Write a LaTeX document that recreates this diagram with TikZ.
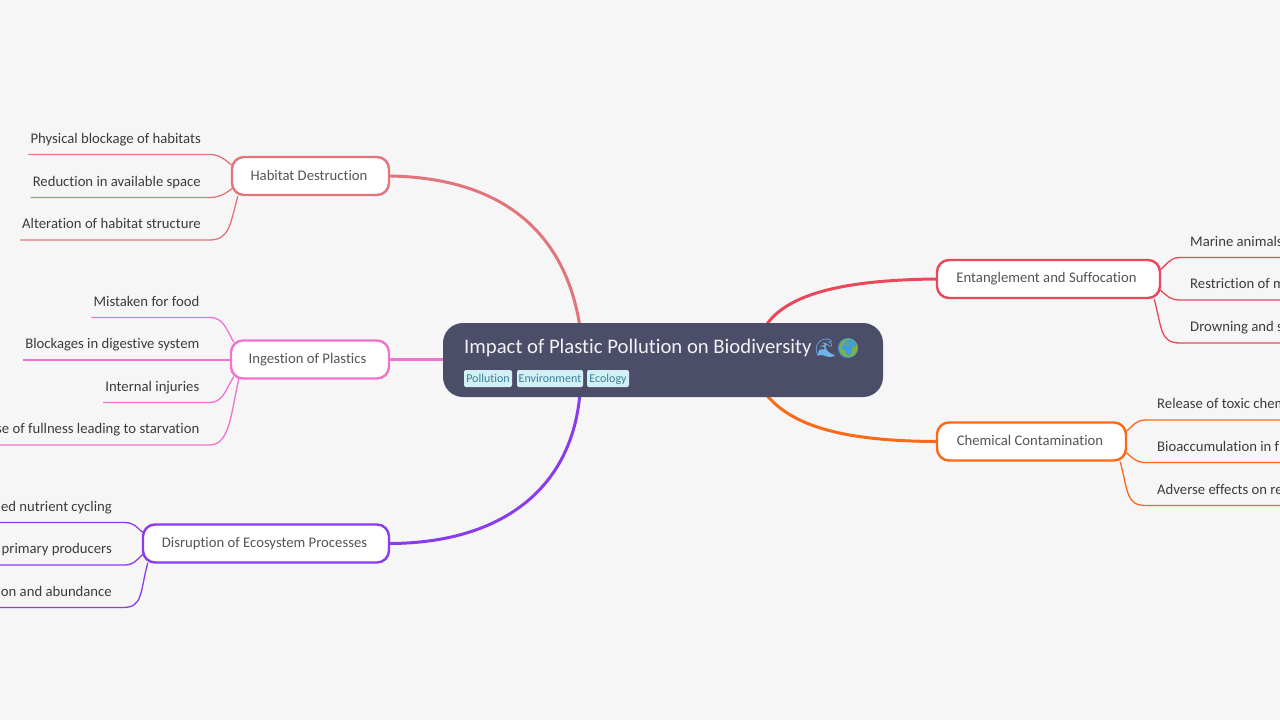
\documentclass[tikz,border=0pt]{standalone}
\usepackage{fontspec}
\setmainfont{Carlito}[RawFeature={-liga;-clig}]
\newfontfamily\emo{Noto Emoji}
\usetikzlibrary{calc}
\pgfdeclarelayer{bgl}\pgfdeclarelayer{conn}\pgfsetlayers{bgl,conn,main}
\definecolor{bgc}{HTML}{F6F6F6}
\definecolor{cen}{HTML}{4C4E69}
\definecolor{hab}{HTML}{E0767B}
\definecolor{ing}{HTML}{EE74CF}
\definecolor{dis}{HTML}{8B3BEE}
\definecolor{ent}{HTML}{E9475C}
\definecolor{che}{HTML}{FA6A18}
\definecolor{tagf}{HTML}{D3F0F7}
\definecolor{tagt}{HTML}{3B8296}
\definecolor{txt}{HTML}{555555}
\definecolor{ltxt}{HTML}{3C3C3C}
\definecolor{wavec}{HTML}{6DB5E8}
\definecolor{seac}{HTML}{3E9BE0}
\definecolor{landc}{HTML}{7CB342}
\newcommand{\brt}[2][0pt]{#2\hspace{#1}\null}
\tikzset{
 branch/.style={draw=#1,line width=2.4pt,fill=white,rounded corners=12pt,text=txt,font=\fontsize{14.7}{18}\selectfont,minimum height=38pt,inner sep=0pt},
 mainlink/.style={draw=#1,line width=3pt},
 leaflink/.style={draw=#1,line width=1.3pt},
 leafl/.style={anchor=south east,text=ltxt,font=\fontsize{14.7}{18}\selectfont,text height=10pt,text depth=8pt,inner ysep=3pt,inner xsep=0pt},
 leafr/.style={anchor=south west,text=ltxt,font=\fontsize{14.7}{18}\selectfont,text height=10pt,text depth=8pt,inner ysep=3pt,inner xsep=0pt},
 tagbox/.style={fill=tagf,text=tagt,rounded corners=2pt,font=\fontsize{12}{14}\selectfont,minimum height=17pt,inner sep=0pt,text height=9.5pt,text depth=1.5pt},
}
\begin{document}
\begin{tikzpicture}[x=1pt,y=-1pt]
\begin{pgfonlayer}{bgl}
\fill[bgc] (0,0) rectangle (1280,720);
\end{pgfonlayer}
\useasboundingbox (0,0) rectangle (1280,720);
% central
\node[fill=cen,rounded corners=20pt,minimum width=440pt,minimum height=74pt,inner sep=0pt] (central) at (663,360) {};
\node[anchor=base west,text=white!92!cen,inner sep=0pt,font=\fontsize{20.7}{26}\selectfont] (title) at (464,353) {Impact of Plastic Pollution on Biodiversity};
\fill[seac] (848,348) circle (10pt);
\node[anchor=base west,text=wavec,inner sep=0pt,font=\emo\fontsize{18}{20}\selectfont] (wave) at (814,354) {🌊};
\node[anchor=base west,text=landc,inner sep=0pt,font=\emo\fontsize{18}{20}\selectfont] (globe) at (837,354) {🌍};
\node[tagbox,minimum width=48pt] (t1) at (488,378.5) {Pollution};
\node[tagbox,minimum width=66pt] (t2) at (550,378.5) {Environment};
\node[tagbox,minimum width=42pt] (t3) at (608,378.5) {Ecology};
\coordinate (ctop) at (580,327);
\coordinate (cbot) at (580,393);
\coordinate (ctr) at (765,327);
\coordinate (cbr) at (765,393);
% branches
\node[branch=hab,minimum width=157pt] (habn) at (310.5,176) {\raisebox{1.5pt}{\brt[3pt]{Habitat Destruction}}};
\node[branch=ing,minimum width=158pt] (ingn) at (310,359.5) {\brt[5pt]{Ingestion of Plastics}};
\node[branch=dis,minimum width=246pt] (disn) at (266,543.5) {\brt[3pt]{Disruption of Ecosystem Processes}};
\node[branch=ent,minimum width=223pt] (entn) at (1048.5,279) {\brt[4pt]{Entanglement and Suffocation}};
\node[branch=che,minimum width=189pt] (chen) at (1031.5,441.5) {\raisebox{1.5pt}{\brt[3pt]{Chemical Contamination}}};
% leaves left
\node[leafl] (h1) at (201,154.5) {Physical blockage of habitats};
\node[leafl] (h2) at (201,197.5) {Reduction in available space};
\node[leafl] (h3) at (201,240) {Alteration of habitat structure};
\node[leafl] (i1) at (199.5,317.5) {Mistaken for food};
\node[leafl] (i2) at (199.5,360) {Blockages in digestive system};
\node[leafl] (i3) at (199.5,402.5) {Internal injuries};
\node[leafl] (i4) at (199.5,445) {se of fullness leading to starvation};
\node[leafl] (d1) at (112,522.5) {ed nutrient cycling};
\node[leafl] (d2) at (112,565) {primary producers};
\node[leafl] (d3) at (112,607.5) {on and abundance};
\node[leafr] (e1) at (1190,257.5) {Marine animals};
\node[leafr] (e2) at (1190,300) {Restriction of m};
\node[leafr] (e3) at (1190,343) {Drowning and s};
\node[leafr] (c1) at (1157,420) {Release of toxic chem};
\node[leafr] (c2) at (1157,462.5) {Bioaccumulation in f};
\node[leafr] (c3) at (1157,505.5) {Adverse effects on re};
\coordinate (elim) at (1280,0);
\begin{pgfonlayer}{conn}
\draw[mainlink=hab] (habn.east) .. controls (500,178) and (565,230) .. (ctop);
\draw[mainlink=ing] (ingn.east) -- (central.west |- ingn.east);
\draw[mainlink=dis] (disn.east) .. controls (500,543) and (572,490) .. (cbot);
\draw[mainlink=ent] (entn.west) .. controls (840,280) and (785,295) .. (ctr);
\draw[mainlink=che] (chen.west) .. controls (840,441) and (790,425) .. (cbr);
% left leaves
\draw[leaflink=hab] (h1.south west)++(-2,0) -- (h1.south east) -- ++(9,0) .. controls ++(10,0) and ++(-7,-6) .. ($(habn.west)+(3,-9)$);
\draw[leaflink=hab] (h2.south west)++(-2,0) -- (h2.south east) -- ++(9,0) .. controls ++(10,0) and ++(-7,6) .. ($(habn.west)+(3,11)$);
\draw[leaflink=hab] (h3.south west)++(-2,0) -- (h3.south east) -- ++(8,0) .. controls ++(20,0) and ++(-8,30) .. ($(habn.south west)+(7,0)$);
\draw[leaflink=ing] (i1.south west)++(-2,0) -- (i1.south east) -- ++(10,0) .. controls ++(14,0) and ++(-8,-14) .. ($(ingn.north west)+(4,3)$);
\draw[leaflink=ing] (i2.south west)++(-2,0) -- (i2.south east) -- (i2.south east -| ingn.west);
\draw[leaflink=ing] (i3.south west)++(-2,0) -- (i3.south east) -- ++(10,0) .. controls ++(14,0) and ++(-8,12) .. ($(ingn.south west)+(4,-3)$);
\draw[leaflink=ing] (i4.south west)++(-2,0) -- (i4.south east) -- ++(10,0) .. controls ++(20,0) and ++(-8,36) .. ($(ingn.south west)+(9,-1)$);
\draw[leaflink=dis] (d1.south west)++(-2,0) -- (d1.south east) -- ++(12,0) .. controls ++(10,0) and ++(-7,-6) .. ($(disn.west)+(1,-11)$);
\draw[leaflink=dis] (d2.south west)++(-2,0) -- (d2.south east) -- ++(12,0) .. controls ++(10,0) and ++(-7,6) .. ($(disn.west)+(1,11)$);
\draw[leaflink=dis] (d3.south west)++(-2,0) -- (d3.south east) -- ++(11,0) .. controls ++(20,0) and ++(-8,30) .. ($(disn.south west)+(6,-1)$);
% right leaves
\draw[leaflink=ent] ($(entn.east)+(-1,-9)$) .. controls ++(7,-6) and ++(-10,0) .. (e1.south west -| 1180,0) -- (e1.south west -| elim);
\draw[leaflink=ent] ($(entn.east)+(-1,11)$) .. controls ++(7,6) and ++(-10,0) .. (e2.south west -| 1180,0) -- (e2.south west -| elim);
\draw[leaflink=ent] ($(entn.south east)+(-7,0)$) .. controls ++(8,30) and ++(-20,0) .. (e3.south west -| 1180,0) -- (e3.south west -| elim);
\draw[leaflink=che] ($(chen.east)+(-1,-10)$) .. controls ++(7,-6) and ++(-10,0) .. (c1.south west -| 1146,0) -- (c1.south west -| elim);
\draw[leaflink=che] ($(chen.east)+(-1,11)$) .. controls ++(7,6) and ++(-10,0) .. (c2.south west -| 1146,0) -- (c2.south west -| elim);
\draw[leaflink=che] ($(chen.south east)+(-7,0)$) .. controls ++(8,30) and ++(-20,0) .. (c3.south west -| 1146,0) -- (c3.south west -| elim);
\end{pgfonlayer}
\end{tikzpicture}
\end{document}
